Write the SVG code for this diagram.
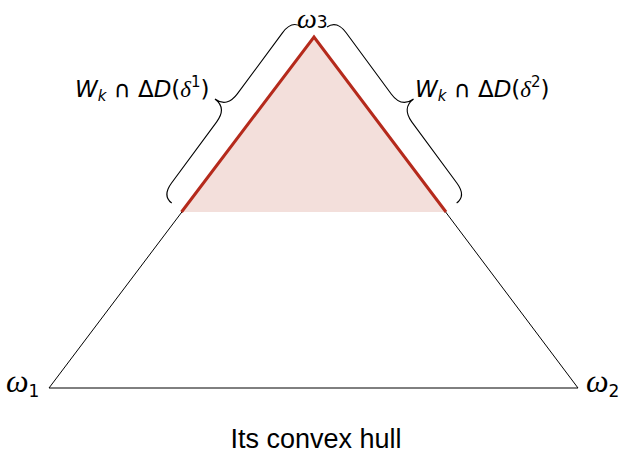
<svg xmlns="http://www.w3.org/2000/svg" width="620" height="454" viewBox="0 0 620 454">
<style>
.edge{fill:none;stroke:#000;stroke-width:1}
.red{fill:none;stroke:#b52a1c;stroke-width:3;stroke-linejoin:miter}
.brace{fill:none;stroke:#000;stroke-width:1.1}
.lbl{font-family:"DejaVu Sans","Liberation Sans",sans-serif;font-size:23px;fill:#000}
.om{font-family:"Liberation Serif","DejaVu Serif",serif;font-style:italic;font-size:32px;fill:#000}
.sub{font-family:"DejaVu Sans","Liberation Sans",sans-serif;font-style:normal;font-size:17px}
.cap{font-family:"Liberation Sans","DejaVu Sans",sans-serif;font-size:27px;fill:#000}
</style>
<g id="hull">
<polygon points="314,37 181.5,212 446,212" fill="#f3dfdb"/>
<polygon class="edge" points="49,388 314,37 578,388"/>
<polyline class="red" points="181.5,212 314,37 446,212"/>
</g>
<g id="connectors">
<path class="brace" transform="translate(171.7,203) rotate(-53.56)" d="M0,0 C0,-8 6,-12 16,-12 L92,-12 C103,-12 109.35,-17 109.35,-27 C109.35,-17 115.7,-12 126.7,-12 L202.7,-12 C212.7,-12 218.7,-8 218.7,0"/>
<path class="brace" transform="translate(327,27) rotate(53.62)" d="M0,0 C0,-8 6,-12 16,-12 L92,-12 C103,-12 109.3,-17 109.3,-27 C109.3,-17 115.6,-12 126.6,-12 L202.6,-12 C212.6,-12 218.6,-8 218.6,0"/>
</g>
<g id="w3"><text class="om" x="297" y="28" style="font-size:28px">ω<tspan class="sub" dy="0">3</tspan></text></g>
<g id="w1"><text class="om" x="6" y="392">ω<tspan class="sub" dy="5">1</tspan></text></g>
<g id="w2"><text class="om" x="586" y="392">ω<tspan class="sub" dy="5">2</tspan></text></g>
<g id="label1"><text class="lbl" x="75" y="97"><tspan font-style="italic">W</tspan><tspan font-style="italic" font-size="15" dy="4">k</tspan><tspan dy="-4"> ∩ Δ</tspan><tspan font-style="italic">D</tspan>(<tspan font-family="Liberation Serif,serif" font-style="italic">δ</tspan><tspan font-size="15" dy="-10">1</tspan><tspan dy="10">)</tspan></text></g>
<g id="label2"><text class="lbl" x="415" y="97"><tspan font-style="italic">W</tspan><tspan font-style="italic" font-size="15" dy="4">k</tspan><tspan dy="-4"> ∩ Δ</tspan><tspan font-style="italic">D</tspan>(<tspan font-family="Liberation Serif,serif" font-style="italic">δ</tspan><tspan font-size="15" dy="-10">2</tspan><tspan dy="10">)</tspan></text></g>
<g id="caption"><text class="cap" x="316" y="448" text-anchor="middle">Its convex hull</text></g>
</svg>
